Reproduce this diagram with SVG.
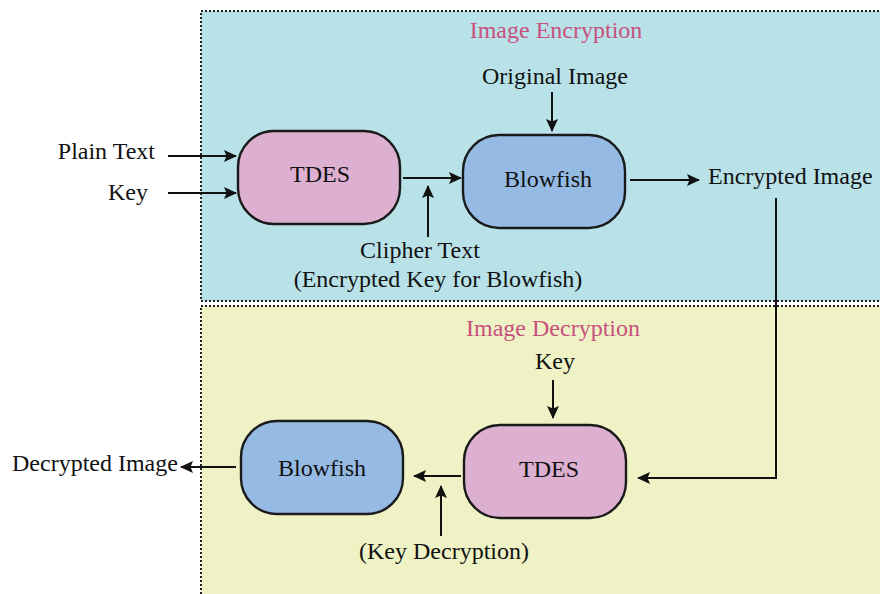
<svg xmlns="http://www.w3.org/2000/svg" width="880" height="594" viewBox="0 0 880 594">
<style>
text{font-family:"Liberation Serif","Times New Roman",serif;font-size:24px;fill:#111}
.title{fill:#c8507e}
.panel{stroke:#222;stroke-width:2;stroke-dasharray:2 2}
.tdes{fill:#ddb0d2;stroke:#1a1a1a;stroke-width:2.4}
.blow{fill:#95bbe4;stroke:#1a1a1a;stroke-width:2.4}
.ln{stroke:#111;stroke-width:2;fill:none}
</style>
<defs>
<marker id="ah" markerWidth="14" markerHeight="12" refX="12" refY="6" orient="auto" markerUnits="userSpaceOnUse">
<path d="M0,0 L13,6 L0,12 L2.5,6 Z" fill="#111"/>
</marker>
</defs>
<rect width="880" height="594" fill="#fff"/>
<g id="panel-enc">
<rect class="panel" x="201" y="11" width="682" height="290" fill="#b8e2e8"/>
<text class="title" x="556" y="38" text-anchor="middle">Image Encryption</text>
</g>
<g id="panel-dec">
<rect class="panel" x="201" y="306" width="682" height="292" fill="#eef2c4"/>
<text class="title" x="553" y="336" text-anchor="middle">Image Decryption</text>
</g>
<g id="tdes-enc">
<rect class="tdes" x="238" y="131" width="162" height="93" rx="36"/>
<text x="320" y="182" text-anchor="middle">TDES</text>
</g>
<g id="blowfish-enc">
<rect class="blow" x="463" y="135" width="162" height="93" rx="36"/>
<text x="548" y="187" text-anchor="middle">Blowfish</text>
</g>
<g id="tdes-dec">
<rect class="tdes" x="464" y="425" width="162" height="93" rx="36"/>
<text x="549" y="477" text-anchor="middle">TDES</text>
</g>
<g id="blowfish-dec">
<rect class="blow" x="241" y="421" width="162" height="93" rx="36"/>
<text x="322" y="476" text-anchor="middle">Blowfish</text>
</g>
<g id="labels">
<text x="155" y="159" text-anchor="end">Plain Text</text>
<text x="148" y="200" text-anchor="end">Key</text>
<text x="555" y="84" text-anchor="middle">Original Image</text>
<text x="420" y="258" text-anchor="middle">Clipher Text</text>
<text x="438" y="287" text-anchor="middle">(Encrypted Key for Blowfish)</text>
<text x="708" y="184">Encrypted Image</text>
<text x="555" y="369" text-anchor="middle">Key</text>
<text x="444" y="559" text-anchor="middle">(Key Decryption)</text>
<text x="12" y="471">Decrypted Image</text>
</g>
<g id="connectors">
<line class="ln" x1="168" y1="156" x2="236" y2="156" marker-end="url(#ah)"/>
<line class="ln" x1="168" y1="193" x2="236" y2="193" marker-end="url(#ah)"/>
<line class="ln" x1="552" y1="92" x2="552" y2="131" marker-end="url(#ah)"/>
<line class="ln" x1="403" y1="178" x2="461" y2="178" marker-end="url(#ah)"/>
<line class="ln" x1="428" y1="237" x2="428" y2="186" marker-end="url(#ah)"/>
<line class="ln" x1="630" y1="180" x2="699" y2="180" marker-end="url(#ah)"/>
<polyline class="ln" points="776,198 776,478 638,478" marker-end="url(#ah)"/>
<line class="ln" x1="553" y1="380" x2="553" y2="418" marker-end="url(#ah)"/>
<line class="ln" x1="461" y1="476" x2="414" y2="476" marker-end="url(#ah)"/>
<line class="ln" x1="441" y1="536" x2="441" y2="486" marker-end="url(#ah)"/>
<line class="ln" x1="236" y1="467" x2="181" y2="467" marker-end="url(#ah)"/>
</g>
</svg>
